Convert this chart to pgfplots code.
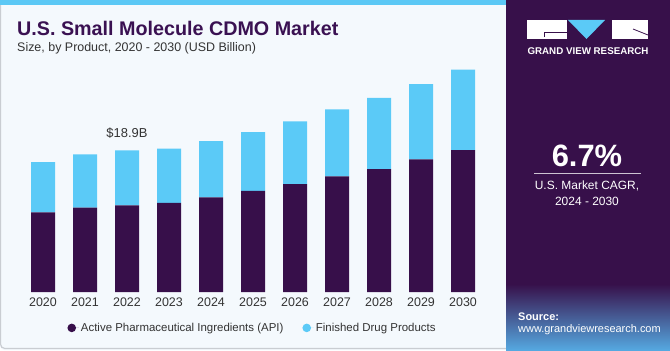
\documentclass[border=0pt]{standalone}
\usepackage{fontspec}
\setmainfont{Liberation Sans}
\usepackage{pgfplots}
\pgfplotsset{compat=1.18}
\definecolor{api}{HTML}{370F4A}
\definecolor{fdp}{HTML}{5BCAF7}
\definecolor{bgc}{HTML}{F4F9FD}
\definecolor{bordc}{HTML}{C9CDD2}
\definecolor{stripe}{HTML}{5BC8F5}
\definecolor{panel}{HTML}{37104A}
\definecolor{midc}{HTML}{4A5A9E}
\definecolor{botc}{HTML}{55A8E0}
\definecolor{titlec}{HTML}{3A1152}
\definecolor{textg}{HTML}{333333}
\begin{document}
\begin{tikzpicture}[x=1bp,y=1bp]
% backgrounds
\fill[white] (0,0) rectangle (670,350);
\fill[bgc, rounded corners=4bp] (0,0) rectangle (510,350);
\draw[bordc, line width=1.2bp, rounded corners=4bp] (0.6,346) -- (0.6,1.6) -- (507,1.6);
\fill[stripe] (0,345) rectangle (506,350);
\fill[panel] (506,0) rectangle (670,350);
\shade[top color=panel, middle color=midc, bottom color=botc] (506,0) rectangle (670,66);
% titles
\node[anchor=base west, inner sep=0, text=titlec, font=\fontsize{19.8}{23}\selectfont\bfseries] at (17,315) {U.S. Small Molecule CDMO Market};
\node[anchor=base west, inner sep=0, text=textg, font=\fontsize{12.5}{15}\selectfont] at (17,299) {Size, by Product, 2020 - 2030 (USD Billion)};
% panel content
\fill[white] (527,311) rectangle (567,330);
\draw[panel, line width=0.8bp] (544,313) -- (544,318) -- (567,318);
\fill[fdp] (568,330) -- (605,330) -- (586.5,311) -- cycle;
\fill[white] (612,311) rectangle (648,330);
\draw[panel, line width=0.8bp] (633,321) -- (648,315);
\node[anchor=base, inner sep=0, text=white, font=\fontsize{9.8}{11}\selectfont\bfseries] at (588,296) {GRAND VIEW RESEARCH};
\node[anchor=base, inner sep=0, text=white, font=\fontsize{31}{34}\selectfont\bfseries] at (587,184) {6.7\%};
\draw[white!75!panel, line width=0.8bp] (534,177) -- (641,177);
\node[anchor=base, inner sep=0, text=white, font=\fontsize{12}{14}\selectfont] at (587,160.5) {U.S. Market CAGR,};
\node[anchor=base, inner sep=0, text=white, font=\fontsize{12}{14}\selectfont] at (587,145) {2024 - 2030};
\node[anchor=base west, inner sep=0, text=white, font=\fontsize{11}{13}\selectfont\bfseries] at (518,30) {Source:};
\node[anchor=base west, inner sep=0, text=white, font=\fontsize{11}{13}\selectfont] at (518,18) {www.grandviewresearch.com};
% chart
\begin{axis}[
  at={(22bp,58bp)}, anchor=south west,
  scale only axis, width=462bp, height=270bp,
  xmin=2019.5, xmax=2030.5, ymin=0, ymax=36,
  axis line style={draw=none},
  ytick=\empty,
  xtick={2020,2021,2022,2023,2024,2025,2026,2027,2028,2029,2030},
  xticklabels={2020,2021,2022,2023,2024,2025,2026,2027,2028,2029,2030},
  major tick length=0pt,
  xticklabel style={font=\fontsize{12.5}{14}\selectfont, text=textg, anchor=base, inner sep=0pt, yshift=-14.5bp},
  ybar stacked, bar width=24bp,
  clip=false,
  legend style={at={(0.499,-0.133)}, anchor=center, draw=none, fill=none,
    legend columns=2, font=\fontsize{11.5}{13}\selectfont, text=textg,
    /tikz/every even column/.append style={column sep=17bp}},
]
\addplot[fill=api, draw=none, legend image code/.code={\fill[api] (0bp,0bp) circle (4.3bp); \path (0bp,0bp) -- (7.2bp,0bp);}] coordinates {
(2020,10.63) (2021,11.24) (2022,11.56) (2023,11.87) (2024,12.63) (2025,13.47)
(2026,14.40) (2027,15.43) (2028,16.40) (2029,17.69) (2030,18.93)};
\addlegendentry{Active Pharmaceutical Ingredients (API)}
\addplot[fill=fdp, draw=none, legend image code/.code={\fill[fdp] (0bp,0bp) circle (4.3bp); \path (0bp,0bp) -- (7.2bp,0bp);}] coordinates {
(2020,6.70) (2021,7.12) (2022,7.34) (2023,7.24) (2024,7.50) (2025,7.86)
(2026,8.36) (2027,8.93) (2028,9.47) (2029,10.04) (2030,10.71)};
\addlegendentry{Finished Drug Products}
\node[anchor=base, inner sep=0, text=textg, font=\fontsize{13}{15}\selectfont] at (axis cs:2022,18.9) [yshift=13bp] {\$18.9B};
\end{axis}
\end{tikzpicture}
\end{document}
